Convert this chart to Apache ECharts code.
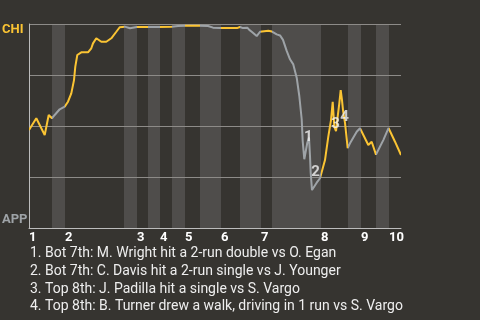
<!DOCTYPE html>
<html>
<head>
<meta charset="utf-8">
<script src="https://cdn.jsdelivr.net/npm/echarts@6/dist/echarts.min.js"></script>
<style>html,body{margin:0;padding:0;background:#363430;}#c{width:480px;height:320px;}</style>
</head>
<body>
<div id="c"></div>
<script>
// game progress (x) and Chicago win probability (y)
const progress = [0,7.3,15.7,19.7,23,25.7,30.7,35.7,39,42.3,45,46.3,48.3,52.3,59,62.3,64,67.3,72.3,77.3,82.3,87.3,90.7,95.7,101,107.7,113,119,121,129,131,142.7,149,156,171,179,184,191,193,198,208,211,214,216,218.3,220.3,223,227.7,231,232.7,239.3,243,247.7,251,252.7,254,257.7,261,264.3,267.7,270.3,272.7,273.7,275.3,277,278.3,280,281,281.7,283,284.3,287.7,291,292,296,299.3,302,303.7,305.3,307,308.5,310.3,311.7,313,314,316,318.7,321,327.7,331,332,339.3,342.7,347,354.3,359.5,360,366,372];
const chiWinProb = [0.480,0.538,0.456,0.554,0.538,0.554,0.582,0.595,0.619,0.660,0.725,0.791,0.848,0.861,0.861,0.881,0.905,0.930,0.913,0.913,0.930,0.962,0.984,0.987,0.979,0.985,0.985,0.985,0.982,0.985,0.985,0.987,0.990,0.992,0.992,0.990,0.982,0.980,0.985,0.980,0.980,0.985,0.980,0.971,0.982,0.971,0.961,0.941,0.962,0.967,0.967,0.963,0.949,0.944,0.938,0.922,0.868,0.827,0.802,0.737,0.647,0.533,0.426,0.337,0.337,0.418,0.443,0.353,0.271,0.186,0.190,0.222,0.244,0.249,0.333,0.448,0.529,0.618,0.497,0.475,0.539,0.611,0.676,0.627,0.578,0.515,0.392,0.415,0.472,0.489,0.490,0.407,0.423,0.360,0.431,0.490,0.490,0.423,0.358];
// half-inning boundaries (top, bottom alternating)
const halfStarts = [0,23,36,95,108,119,131,143,156,171,192,211,232,243,292,319,332,347,360];
const gameEnd = 372;
const inningStarts = [0,36,108,131,156,192,232,292,332,360];
const inningLabels = ['1','2','3','4','5','6','7','8','9','10'];
// annotated events
const eventX = [279.3,286.5,306.5,315.5];
const eventY = [0.444,0.275,0.508,0.542];
const eventLabels = ['1','2','3','4'];
const notes = [
  '1. Bot 7th: M. Wright hit a 2-run double vs O. Egan',
  '2. Bot 7th: C. Davis hit a 2-run single vs J. Younger',
  '3. Top 8th: J. Padilla hit a single vs S. Vargo',
  '4. Top 8th: B. Turner drew a walk, driving in 1 run vs S. Vargo'
];
const teamTop = 'CHI', teamBottom = 'APP';

const YELLOW = '#fbc433', GREY = '#9ea3a7';
const bands = [];
const pieces = [];
for (let i = 0; i < halfStarts.length; i++) {
  const s = halfStarts[i], e = i + 1 < halfStarts.length ? halfStarts[i + 1] : gameEnd;
  if (i % 2 === 1) bands.push([s, e]);
  pieces.push(i + 1 < halfStarts.length ? {gte: s, lt: e, color: i % 2 ? GREY : YELLOW}
                                         : {gte: s, lte: e, color: i % 2 ? GREY : YELLOW});
}
const lineData = progress.map((x, i) => [x, chiWinProb[i]]);
const eventData = eventX.map((x, i) => [x, eventY[i]]);

const chart = echarts.init(document.getElementById('c'));
chart.setOption({
  backgroundColor: '#363430',
  animation: false,
  title: {
    text: notes.join('\n'), left: 30, top: 245, padding: 0,
    textStyle: {color: '#eeeeee', fontSize: 14, fontWeight: 'normal', fontFamily: 'Roboto', lineHeight: 17.7}
  },
  grid: {left: 29, right: 79, top: 24, bottom: 92, containLabel: false, outerBoundsMode: 'none'},
  xAxis: {
    type: 'value', min: 0, max: gameEnd,
    splitLine: {show: false}, axisTick: {show: false},
    axisLine: {lineStyle: {color: '#bcbcbc', width: 1}},
    axisLabel: {
      customValues: inningStarts, align: 'left', margin: 3, hideOverlap: false,
      color: '#ffffff', fontWeight: 'bold', fontSize: 13, fontFamily: 'Roboto',
      formatter: v => inningLabels[inningStarts.indexOf(v)]
    }
  },
  yAxis: {
    type: 'value', min: 0, max: 1, interval: 0.25,
    splitLine: {lineStyle: {color: '#8d8b88', width: 1}},
    axisLine: {show: true, lineStyle: {color: '#bcbcbc'}},
    axisTick: {show: false},
    axisLabel: {
      customValues: [0, 1], margin: 27, align: 'left',
      formatter: v => v === 1 ? '{t|' + teamTop + '}' : '{b|' + teamBottom + '}',
      rich: {
        t: {color: YELLOW, fontWeight: 'bold', fontSize: 13, fontFamily: 'Roboto', padding: [12, 0, 0, 0]},
        b: {color: GREY, fontWeight: 'bold', fontSize: 13, fontFamily: 'Roboto', padding: [0, 0, 16, 0]}
      }
    }
  },
  visualMap: {show: false, type: 'piecewise', dimension: 0, seriesIndex: 1, pieces: pieces},
  series: [
    {
      type: 'custom', z: -1, silent: true, data: bands,
      encode: {x: [0, 1]},
      renderItem: (params, api) => {
        const a = api.coord([api.value(0), 1]);
        const b = api.coord([api.value(1), 0]);
        return {type: 'rect', shape: {x: a[0], y: a[1], width: b[0] - a[0], height: b[1] - a[1]},
                style: {fill: '#4f4d4b'}};
      }
    },
    {
      type: 'line', data: lineData, showSymbol: false, z: 3,
      lineStyle: {width: 2}
    },
    {
      type: 'scatter', data: eventData, symbolSize: 1, z: 10, silent: true,
      itemStyle: {color: 'rgba(0,0,0,0)'},
      labelLayout: {hideOverlap: false},
      label: {show: true, position: 'inside', formatter: p => eventLabels[p.dataIndex],
              color: '#f2f2f2', fontWeight: 'bold', fontSize: 15, fontFamily: 'Roboto'}
    }
  ]
});
</script>
</body>
</html>
